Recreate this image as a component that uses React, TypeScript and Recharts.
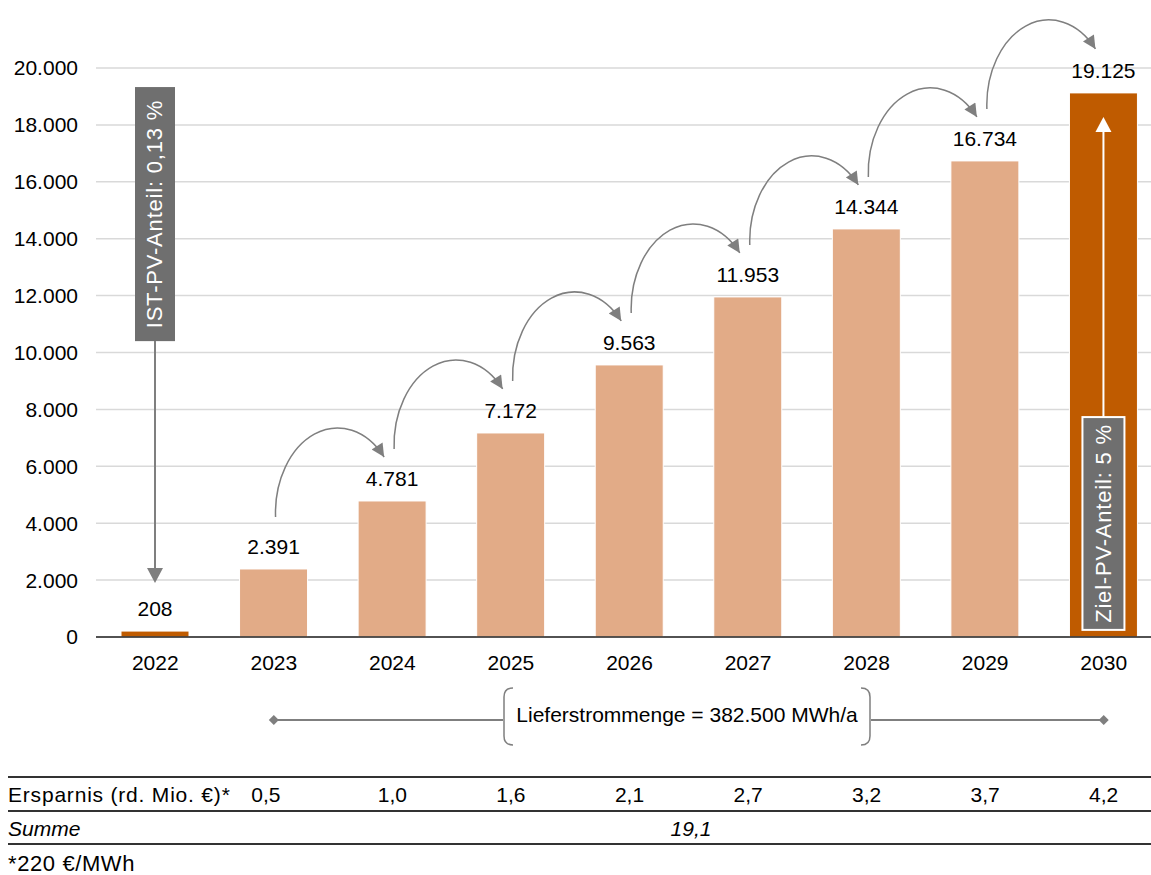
import React from "react";
import { BarChart, Bar, XAxis, YAxis, CartesianGrid, Cell, LabelList } from "recharts";

// values (MWh per year)
const years = ["2022", "2023", "2024", "2025", "2026", "2027", "2028", "2029", "2030"];
const mwh = [208, 2391, 4781, 7172, 9563, 11953, 14344, 16734, 19125];
const yTicks = [0, 2000, 4000, 6000, 8000, 10000, 12000, 14000, 16000, 18000, 20000];

// savings table below the chart (2023..2030)
const savings = ["0,5", "1,0", "1,6", "2,1", "2,7", "3,2", "3,7", "4,2"];
const savingsTotal = "19,1";

const istLabel = "IST-PV-Anteil: 0,13 %";
const zielLabel = "Ziel-PV-Anteil: 5 %";
const supplyLabel = "Lieferstrommenge = 382.500 MWh/a";

// annotation extents, in MWh
const istBox = [10400, 19330];
const istTip = 1900;
const zielBox = [250, 7730];
const zielTip = 18280;

const data = years.map((year, i) => ({ year, value: mwh[i] }));

const W = 1170;
const H = 680;
const TOP = 68;
const AXIS_W = 96;
const RIGHT = 7;
const PLOT_W = W - AXIS_W - RIGHT;
const BAND = PLOT_W / years.length;
const FONT = "'Liberation Sans', Arial, sans-serif";

const DARK = "#BF5B00";
const LIGHT = "#E2AB87";
const GREY = "#7f7f7f";
const BOX = "#6f6f6f";

const fmt = (v: number) => String(v).replace(/\B(?=(\d{3})+(?!\d))/g, ".");
const center = (i: number) => AXIS_W + BAND * (i + 0.5);

function BarDecor(props: any) {
  const vb = props.viewBox || {};
  const x = props.x ?? vb.x;
  const y = props.y ?? vb.y;
  const width = props.width ?? vb.width;
  const height = props.height ?? vb.height;
  let index = props.index;
  if (index === undefined) index = mwh.indexOf(Number(props.value));
  const value = mwh[index];
  const cx = x + width / 2;
  const base = y + height;
  const k = height / value;
  const py = (v: number) => base - v * k;
  const top = py(value);

  const parts: React.ReactNode[] = [];

  if (index === 0) {
    parts.push(
      <defs key="defs">
        <marker id="arrowGrey" viewBox="0 0 10 10" refX="10" refY="5" markerWidth="15" markerHeight="13" markerUnits="userSpaceOnUse" orient="auto">
          <path d="M0,0 L10,5 L0,10 z" fill={GREY} />
        </marker>
      </defs>
    );
    const bTop = py(istBox[1]);
    const bBot = py(istBox[0]);
    const tip = py(istTip);
    parts.push(
      <g key="ist">
        <rect x={cx - 20} y={bTop} width={40} height={bBot - bTop} fill={BOX} />
        <line x1={cx} y1={bBot} x2={cx} y2={tip - 14} stroke={GREY} strokeWidth={2} />
        <path d={`M${cx - 8},${tip - 15} L${cx + 8},${tip - 15} L${cx},${tip} z`} fill={GREY} />
        <text
          x={cx}
          y={(bTop + bBot) / 2}
          transform={`rotate(-90 ${cx} ${(bTop + bBot) / 2})`}
          textAnchor="middle"
          dominantBaseline="central"
          fill="#fff"
          fontSize={22}
          letterSpacing={0.8}
          fontFamily={FONT}
        >
          {istLabel}
        </text>
      </g>
    );
  }

  if (index === mwh.length - 1) {
    const bTop = py(zielBox[1]);
    const bBot = py(zielBox[0]);
    const tip = py(zielTip);
    parts.push(
      <g key="ziel">
        <line x1={cx} y1={bTop} x2={cx} y2={tip + 14} stroke="#fff" strokeWidth={2} />
        <path d={`M${cx - 8},${tip + 15} L${cx + 8},${tip + 15} L${cx},${tip} z`} fill="#fff" />
        <rect x={cx - 21} y={bTop} width={42} height={bBot - bTop} fill={BOX} stroke="#fff" strokeWidth={2} />
        <text
          x={cx}
          y={(bTop + bBot) / 2}
          transform={`rotate(-90 ${cx} ${(bTop + bBot) / 2})`}
          textAnchor="middle"
          dominantBaseline="central"
          fill="#fff"
          fontSize={22}
          letterSpacing={0.8}
          fontFamily={FONT}
        >
          {zielLabel}
        </text>
      </g>
    );
  }

  // curved arrow to the next year's label
  if (index >= 1 && index < mwh.length - 1) {
    const nextTop = py(mwh[index + 1]);
    const sx = cx + 2;
    const sy = top - 52;
    const ex = cx + BAND - 8;
    const ey = nextTop - 44;
    parts.push(
      <path
        key="arc"
        d={`M${sx},${sy} A62,85 0 0 1 ${ex},${ey}`}
        fill="none"
        stroke={GREY}
        strokeWidth={1.5}
        markerEnd="url(#arrowGrey)"
      />
    );
  }

  parts.push(
    <text key="val" x={cx} y={top - 15} textAnchor="middle" fontSize={21} fontFamily={FONT} fill="#000">
      {fmt(value)}
    </text>
  );

  return <g>{parts}</g>;
}

function Table() {
  const rowY = 802;
  return (
    <svg width={1151} height={875} style={{ position: "absolute", left: 0, top: 0, pointerEvents: "none" }}>
      <g fontFamily={FONT} fill="#000">
        {/* supply bracket */}
        <line x1={center(1)} y1={720} x2={503} y2={720} stroke={GREY} strokeWidth={2} />
        <line x1={871} y1={720} x2={center(8)} y2={720} stroke={GREY} strokeWidth={2} />
        <path d={`M${center(1) - 5},720 L${center(1)},715 L${center(1) + 5},720 L${center(1)},725 z`} fill={GREY} />
        <path d={`M${center(8) - 5},720 L${center(8)},715 L${center(8) + 5},720 L${center(8)},725 z`} fill={GREY} />
        <path d="M513,688 Q504,688 504,697 L504,736 Q504,745 513,745" fill="none" stroke={GREY} strokeWidth={1.5} />
        <path d="M861,688 Q870,688 870,697 L870,736 Q870,745 861,745" fill="none" stroke={GREY} strokeWidth={1.5} />
        <text x={687} y={722} textAnchor="middle" fontSize={21}>
          {supplyLabel}
        </text>

        {/* savings table */}
        <line x1={8} y1={777} x2={1151} y2={777} stroke="#333" strokeWidth={2} />
        <text x={8} y={rowY} fontSize={21} letterSpacing={0.8}>
          Ersparnis (rd. Mio. €)*
        </text>
        {savings.map((s, i) => (
          <text key={s + i} x={i === 0 ? center(1) - 8 : center(i + 1)} y={rowY} textAnchor="middle" fontSize={21}>
            {s}
          </text>
        ))}
        <line x1={8} y1={811} x2={1151} y2={811} stroke="#333" strokeWidth={2} />
        <text x={8} y={836} fontSize={21} fontStyle="italic">
          Summe
        </text>
        <text x={691} y={836} textAnchor="middle" fontSize={21} fontStyle="italic">
          {savingsTotal}
        </text>
        <line x1={8} y1={844} x2={1151} y2={844} stroke="#333" strokeWidth={2} />
        <text x={8} y={871} fontSize={22} letterSpacing={0.6}>
          *220 €/MWh
        </text>
      </g>
    </svg>
  );
}

export default function App() {
  return (
    <div
      style={{
        position: "fixed",
        left: 0,
        top: 0,
        width: 1151,
        height: 875,
        overflow: "hidden",
        background: "#fff",
        fontFamily: FONT,
      }}
    >
      <BarChart width={W} height={H} data={data} margin={{ top: TOP, right: RIGHT, left: 0, bottom: 0 }}>
        <CartesianGrid vertical={false} stroke="#d9d9d9" strokeWidth={1.5} />
        <YAxis
          width={AXIS_W}
          domain={[0, 20000]}
          ticks={yTicks}
          tickFormatter={fmt}
          axisLine={false}
          tickLine={false}
          tickSize={0}
          tickMargin={18}
          tick={{ fill: "#000", fontSize: 21, fontFamily: FONT }}
        />
        <XAxis
          dataKey="year"
          height={43}
          tickLine={false}
          tickSize={0}
          tickMargin={18}
          axisLine={{ stroke: "#222", strokeWidth: 1.5 }}
          tick={{ fill: "#000", fontSize: 21, fontFamily: FONT }}
        />
        <Bar dataKey="value" barSize={68} isAnimationActive={false} stroke="#fff" strokeWidth={1}>
          {data.map((d, i) => (
            <Cell key={d.year} fill={i === 0 || i === data.length - 1 ? DARK : LIGHT} />
          ))}
          <LabelList dataKey="value" content={<BarDecor />} />
        </Bar>
      </BarChart>
      <Table />
    </div>
  );
}
